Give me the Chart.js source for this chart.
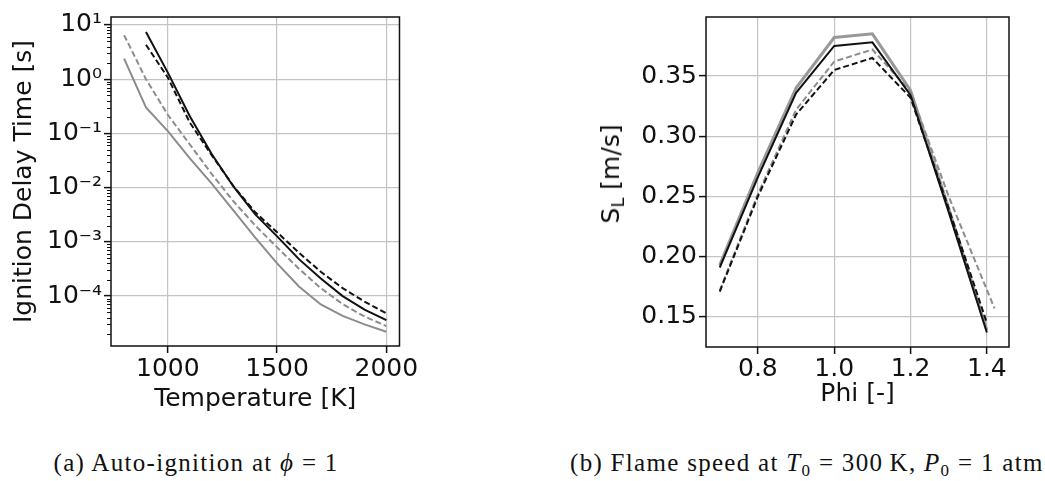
<!DOCTYPE html>
<html>
<head>
<meta charset="utf-8">
<script src="https://cdn.jsdelivr.net/npm/chart.js@4.4.1/dist/chart.umd.min.js"></script>
<style>
  body { margin: 0; background: #fff; width: 1045px; height: 481px; overflow: hidden; position: relative; }
  #left { position: absolute; left: 0; top: 0; }
  #right { position: absolute; left: 600px; top: 0; }
  .ytitle {
    position: absolute; left: 612px; top: 174px; white-space: nowrap;
    transform: translate(-50%, -50%) rotate(-90deg);
    font-family: "DejaVu Sans"; font-size: 25px; color: #111;
  }
  .ytitle sub { font-size: 18px; vertical-align: -5px; }
  .cap { position: absolute; top: 449px; white-space: nowrap; font-family: "Liberation Serif"; font-size: 25px; letter-spacing: 1.3px; color: #111; }
  .cap i { font-style: italic; }
  .cap sub { font-size: 17px; vertical-align: -5px; }
</style>
</head>
<body>
<canvas id="left" width="420" height="420"></canvas>
<canvas id="right" width="445" height="420"></canvas>
<div class="ytitle">S<sub>L</sub> [m/s]</div>
<div class="cap" id="capA">(a) Auto-ignition at <i>ϕ</i> = 1</div>
<div class="cap" id="capB">(b) Flame speed at <i>T</i><sub>0</sub> = 300&#8201;K, <i>P</i><sub>0</sub> = 1 atm</div>
<script>
// ---- (a) ignition delay time vs temperature ----
const tempsFrom800 = [800, 900, 1000, 1100, 1200, 1300, 1400, 1500, 1600, 1700, 1800, 1900, 2000];
const tempsFrom900 = [900, 1000, 1100, 1200, 1300, 1400, 1500, 1600, 1700, 1800, 1900, 2000];
const idtBlackSolid = [7.4, 1.32, 0.21, 0.042, 0.0105, 0.0032, 0.00126, 4.8e-4, 2.1e-4, 1.0e-4, 5.6e-5, 3.6e-5];
const idtBlackDashed = [4.3, 1.07, 0.16, 0.04, 0.0107, 0.0035, 0.0015, 6.3e-4, 2.8e-4, 1.4e-4, 7.9e-5, 4.8e-5];
const idtGreyDashed = [6.5, 1.0, 0.22, 0.063, 0.018, 0.0056, 0.002, 7.9e-4, 3.2e-4, 1.4e-4, 7.1e-5, 4.2e-5, 2.8e-5];
const idtGreySolid = [2.4, 0.30, 0.11, 0.035, 0.012, 0.0038, 0.0012, 4.0e-4, 1.5e-4, 7.0e-5, 4.3e-5, 3.0e-5, 2.2e-5];
const tempTicks = [1000, 1500, 2000];
const idtDecades = [1e-4, 1e-3, 1e-2, 1e-1, 1, 10];

// ---- (b) laminar flame speed vs equivalence ratio ----
const phi = [0.7, 0.8, 0.9, 1.0, 1.1, 1.2, 1.3, 1.4];
const phiGreyDashed = [0.7, 0.8, 0.9, 1.0, 1.1, 1.2, 1.3, 1.42];
const slGreySolid = [0.193, 0.270, 0.340, 0.382, 0.385, 0.338, 0.240, 0.139];
const slBlackSolid = [0.191, 0.266, 0.336, 0.375, 0.378, 0.334, 0.237, 0.137];
const slBlackDashed = [0.171, 0.250, 0.318, 0.355, 0.365, 0.332, 0.240, 0.145];
const slGreyDashed = [0.172, 0.252, 0.322, 0.362, 0.372, 0.337, 0.250, 0.157];
const phiTicks = [0.8, 1.0, 1.2, 1.4];
const slTicks = [0.15, 0.20, 0.25, 0.30, 0.35];

const BLACK = '#111111';
const GREY = '#8c8c8c';
const GRID = '#c4c4c4';
const FONT = { family: '"DejaVu Sans"', size: 25 };

const SUP = { '-': '⁻', '0': '⁰', '1': '¹', '2': '²', '3': '³', '4': '⁴', '5': '⁵', '6': '⁶', '7': '⁷', '8': '⁸', '9': '⁹' };
function powLabel(v) {
  const l = Math.log10(v);
  const e = Math.round(l);
  if (Math.abs(l - e) > 1e-6) return '';
  return '10' + String(e).split('').map(c => SUP[c]).join('');
}

function pairs(xs, ys) {
  return ys.map((y, i) => ({ x: xs[i], y }));
}

function line(label, xs, ys, color, dashed, width) {
  return {
    label,
    data: pairs(xs, ys),
    borderColor: color,
    borderWidth: width || 2,
    borderDash: dashed ? [6, 3] : [],
    pointRadius: 0,
    tension: 0,
    fill: false,
  };
}

// frame round the plot area plus short minor ticks on a log axis
const framePlugin = {
  id: 'frame',
  afterDatasetsDraw(chart) {
    const { ctx, chartArea: a } = chart;
    ctx.save();
    const minor = chart.options.plugins.frame && chart.options.plugins.frame.minor;
    if (minor) {
      const ys = chart.scales.y;
      ctx.strokeStyle = BLACK;
      ctx.lineWidth = 1;
      ctx.beginPath();
      minor.forEach(v => {
        const p = Math.round(ys.getPixelForValue(v)) + 0.5;
        ctx.moveTo(a.left - 4, p);
        ctx.lineTo(a.left, p);
      });
      ctx.stroke();
    }
    ctx.strokeStyle = BLACK;
    ctx.lineWidth = 1.5;
    ctx.strokeRect(a.left, a.top, a.right - a.left, a.bottom - a.top);
    ctx.restore();
  }
};

const minorTicks = [];
idtDecades.concat([1e-5]).forEach(d => {
  for (let k = 2; k <= 9; k++) {
    const v = d * k;
    if (v > 1.2e-5 && v < 14) minorTicks.push(v);
  }
});

new Chart(document.getElementById('left'), {
  type: 'line',
  data: {
    datasets: [
      line('black solid', tempsFrom900, idtBlackSolid, BLACK, false, 2),
      line('black dashed', tempsFrom900, idtBlackDashed, BLACK, true, 2),
      line('grey dashed', tempsFrom800, idtGreyDashed, GREY, true, 2),
      line('grey solid', tempsFrom800, idtGreySolid, GREY, false, 2),
    ]
  },
  options: {
    responsive: false,
    animation: false,
    layout: { padding: { top: 12, right: 18, left: 0, bottom: 0 } },
    plugins: { legend: { display: false }, tooltip: { enabled: false }, frame: { minor: minorTicks } },
    scales: {
      x: {
        type: 'linear', min: 740, max: 2060,
        afterBuildTicks: s => { s.ticks = tempTicks.map(v => ({ value: v })); },
        afterFit: s => { s.height = 74; },
        grid: { color: GRID, lineWidth: 1.2, tickColor: BLACK, tickLength: 7, tickWidth: 1.5 },
        border: { display: false },
        ticks: { color: BLACK, font: FONT, padding: 1, autoSkip: false, maxRotation: 0, callback: v => String(v) },
        title: { display: true, text: 'Temperature [K]', color: BLACK, font: FONT, padding: { top: 0, bottom: 6 } },
      },
      y: {
        type: 'logarithmic', min: 1.2e-5, max: 14,
        afterBuildTicks: s => { s.ticks = idtDecades.map(v => ({ value: v, major: true })); },
        afterFit: s => { s.width = 111; },
        grid: { color: GRID, lineWidth: 1.2, tickColor: BLACK, tickLength: 7, tickWidth: 1.5 },
        border: { display: false },
        ticks: { color: BLACK, font: FONT, padding: 2, autoSkip: false, callback: v => powLabel(v) },
        title: { display: true, text: 'Ignition Delay Time [s]', color: BLACK, font: FONT, padding: { top: 9, bottom: 0 } },
      }
    }
  },
  plugins: [framePlugin]
});

new Chart(document.getElementById('right'), {
  type: 'line',
  data: {
    datasets: [
      line('black solid', phi, slBlackSolid, BLACK, false, 2),
      line('black dashed', phi, slBlackDashed, BLACK, true, 2),
      line('grey dashed', phiGreyDashed, slGreyDashed, GREY, true, 2),
      line('grey solid', phi, slGreySolid, '#999999', false, 3),
    ]
  },
  options: {
    responsive: false,
    animation: false,
    layout: { padding: { top: 10, right: 36, left: 0, bottom: 0 } },
    plugins: { legend: { display: false }, tooltip: { enabled: false }, frame: {} },
    scales: {
      x: {
        type: 'linear', min: 0.664, max: 1.458,
        afterBuildTicks: s => { s.ticks = phiTicks.map(v => ({ value: v })); },
        afterFit: s => { s.height = 73; },
        grid: { color: GRID, lineWidth: 1.2, tickColor: BLACK, tickLength: 7, tickWidth: 1.5 },
        border: { display: false },
        ticks: { color: BLACK, font: FONT, padding: 0, autoSkip: false, maxRotation: 0, callback: v => v.toFixed(1) },
        title: { display: true, text: 'Phi [-]', color: BLACK, font: FONT, padding: { top: 0, bottom: 11 } },
      },
      y: {
        type: 'linear', min: 0.125, max: 0.399,
        afterBuildTicks: s => { s.ticks = slTicks.map(v => ({ value: v })); },
        afterFit: s => { s.width = 106; },
        grid: { color: GRID, lineWidth: 1.2, tickColor: BLACK, tickLength: 7, tickWidth: 1.5 },
        border: { display: false },
        ticks: { color: BLACK, font: FONT, padding: 2, autoSkip: false, callback: v => v.toFixed(2) },
      }
    }
  },
  plugins: [framePlugin]
});

// captions: (a) centred under the left figure, (b) flush with the right edge
const capA = document.getElementById('capA');
capA.style.left = (196 - capA.offsetWidth / 2) + 'px';
const capB = document.getElementById('capB');
capB.style.left = (1044 - capB.offsetWidth) + 'px';
</script>
</body>
</html>
